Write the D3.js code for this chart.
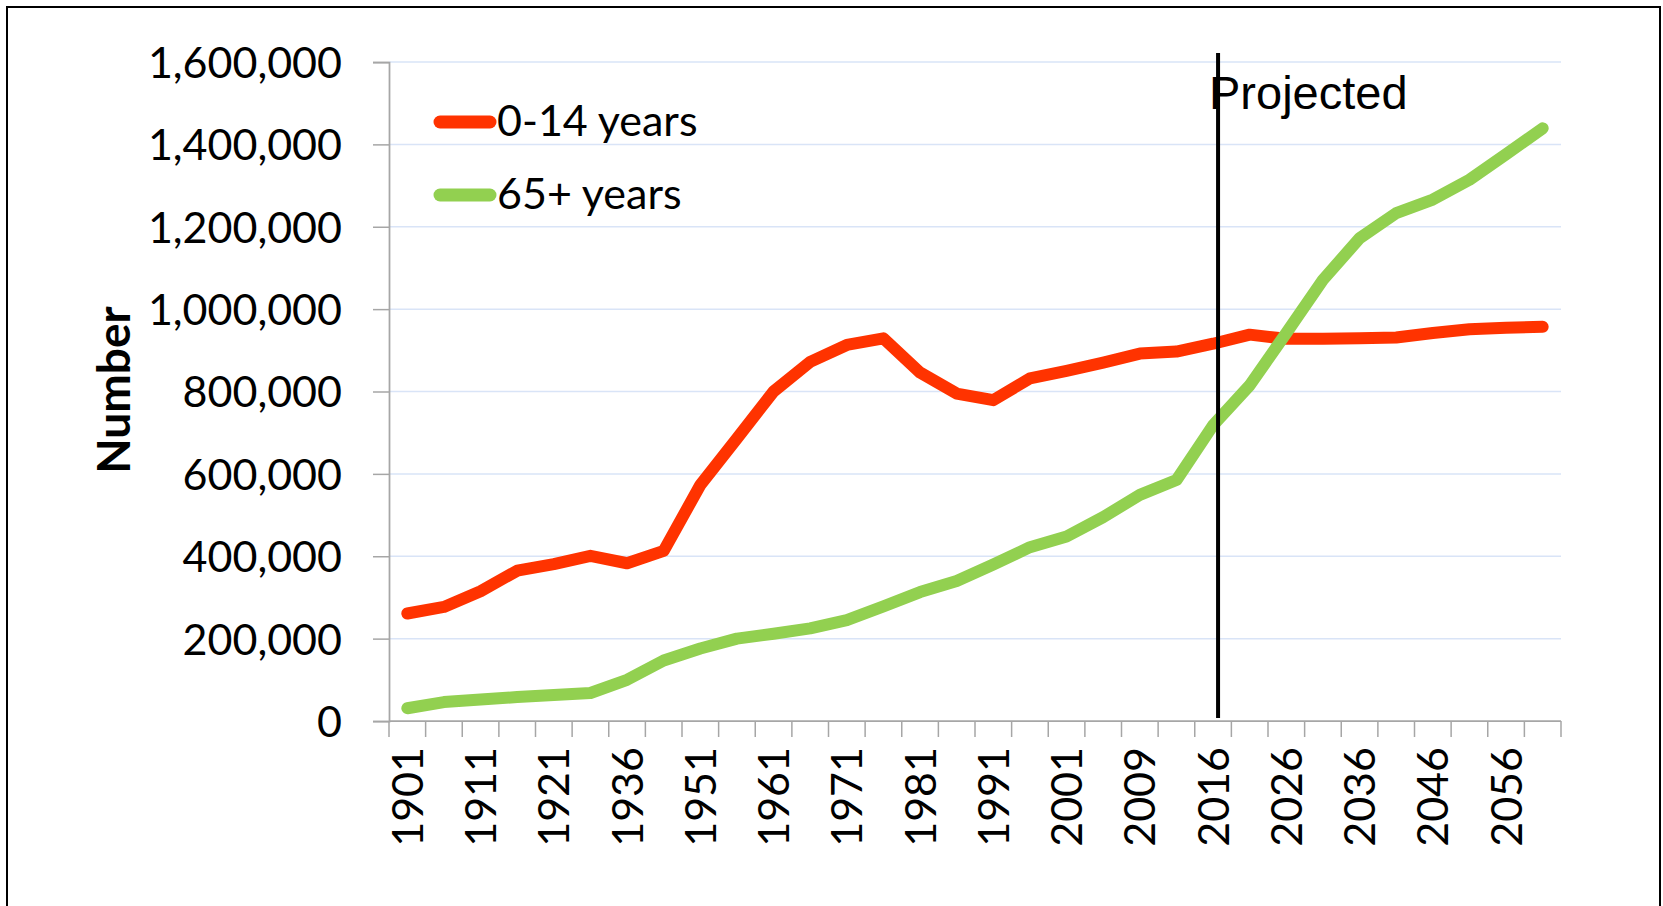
<!DOCTYPE html>
<html>
<head>
<meta charset="utf-8">
<script src="https://cdn.jsdelivr.net/npm/d3@7"></script>
<style>
  body { margin: 0; background: #fff; }
  svg { display: block; }
  .lbl { font-family: Lato, "Open Sans", sans-serif; fill: #000; }
</style>
</head>
<body>
<div class="chart"></div>
<script>
var width = 1663,
    height = 906;

// census / projection years (every other one is labelled)
var years = ["1901","1906","1911","1916","1921","1926","1936","1945","1951","1956",
             "1961","1966","1971","1976","1981","1986","1991","1996","2001","2006",
             "2009","2013","2016","2021","2026","2031","2036","2041","2046","2051",
             "2056","2061"];

// 0-14 years
var children = [261000,277000,315000,365000,381000,401000,383000,413000,573000,686000,
                800000,872000,913000,929000,846000,795000,779000,832000,850000,870000,
                892000,897000,916000,938000,928000,928000,929000,931000,942000,951000,
                955000,957000];

// 65+ years
var older = [31000,46000,52000,58000,63000,68000,100000,147000,176000,200000,
             212000,225000,245000,278000,313000,340000,380000,422000,448000,495000,
             549000,585000,718000,815000,942000,1071000,1172000,1233000,1266000,1314000,
             1376000,1439000];

var yTicks = [0,200000,400000,600000,800000,1000000,1200000,1400000,1600000];

var seriesNames = ["0-14 years", "65+ years"];
var seriesColors = ["#ff3300", "#92d050"];
var projectedFrom = "2016";

var plot = {left: 389, right: 1561, top: 62, bottom: 721};

var svg = d3.select(".chart").append("svg")
    .attr("width", width)
    .attr("height", height);

svg.append("rect")
    .attr("width", width).attr("height", height)
    .attr("fill", "#fff");

// frame round the whole picture (bottom edge falls outside)
svg.append("rect")
    .attr("x", 7).attr("y", 7)
    .attr("width", 1653).attr("height", 920)
    .attr("fill", "none")
    .attr("stroke", "#000")
    .attr("stroke-width", 2);

var x = d3.scaleBand()
    .domain(years)
    .range([plot.left, plot.right])
    .padding(0);

var y = d3.scaleLinear()
    .domain([0, 1600000])
    .range([plot.bottom, plot.top]);

var cx = function(d) { return x(d) + x.bandwidth() / 2; };

//gridlines
svg.append("g")
  .selectAll("line")
  .data(yTicks.filter(function(d) { return d > 0; }))
  .enter().append("line")
    .attr("x1", plot.left).attr("x2", plot.right)
    .attr("y1", function(d) { return y(d); })
    .attr("y2", function(d) { return y(d); })
    .attr("stroke", "#d9e4f7")
    .attr("stroke-width", 1.5);

//y axis
var yAxis = svg.append("g")
    .attr("transform", "translate(" + plot.left + ",0)")
    .call(d3.axisLeft(y)
      .tickValues(yTicks)
      .tickSize(16)
      .tickPadding(31)
      .tickFormat(d3.format(",")));

yAxis.select(".domain").attr("stroke", "#a6a6a6").attr("stroke-width", 1.75);
yAxis.selectAll(".tick line").attr("stroke", "#a6a6a6").attr("stroke-width", 1.5);
yAxis.selectAll(".tick text")
    .attr("class", "lbl")
    .style("font-size", "43px")
    .attr("dy", "0.36em");

//x axis
svg.append("line")
    .attr("x1", plot.left).attr("x2", plot.right)
    .attr("y1", plot.bottom).attr("y2", plot.bottom)
    .attr("stroke", "#a6a6a6")
    .attr("stroke-width", 1.75);

// ticks sit between the categories
var bounds = years.map(function(d) { return x(d); }).concat([plot.right]);
svg.append("g")
  .selectAll("line")
  .data(bounds)
  .enter().append("line")
    .attr("x1", function(d) { return d; })
    .attr("x2", function(d) { return d; })
    .attr("y1", plot.bottom)
    .attr("y2", plot.bottom + 16)
    .attr("stroke", "#a6a6a6")
    .attr("stroke-width", 1.5);

svg.append("g")
  .selectAll("text")
  .data(years.filter(function(d, i) { return i % 2 === 0; }))
  .enter().append("text")
    .attr("class", "lbl")
    .attr("x", function(d) { return cx(d); })
    .attr("y", 747)
    .attr("dy", "0.36em")
    .attr("text-anchor", "end")
    .attr("transform", function(d) { return "rotate(-90," + cx(d) + ",747)"; })
    .style("font-size", "43px")
    .text(function(d) { return d; });

//axis title
svg.append("text")
    .attr("class", "lbl")
    .attr("x", 130).attr("y", 390)
    .attr("text-anchor", "middle")
    .attr("transform", "rotate(-90,130,390)")
    .style("font-size", "46px")
    .style("font-weight", "bold")
    .text("Number");

//series lines
var line = d3.line()
    .x(function(d, i) { return cx(years[i]); })
    .y(function(d) { return y(d); });

[children, older].forEach(function(vals, k) {
  svg.append("path")
    .attr("d", line(vals))
    .attr("fill", "none")
    .attr("stroke", seriesColors[k])
    .attr("stroke-width", 12)
    .attr("stroke-linejoin", "round")
    .attr("stroke-linecap", "round");
});

//legend
var legend = svg.append("g")
  .selectAll("g")
  .data(seriesNames)
  .enter().append("g")
    .attr("transform", function(d, i) { return "translate(0," + (122 + i * 73) + ")"; });

legend.append("line")
    .attr("x1", 440).attr("x2", 490)
    .attr("stroke", function(d, i) { return seriesColors[i]; })
    .attr("stroke-width", 13)
    .attr("stroke-linecap", "round");

legend.append("text")
    .attr("class", "lbl")
    .attr("x", 497)
    .attr("y", 14)
    .style("font-size", "43px")
    .text(function(d) { return d; });

//projection marker
var px = cx(projectedFrom) + 5;
svg.append("line")
    .attr("x1", px).attr("x2", px)
    .attr("y1", 53).attr("y2", 718)
    .attr("stroke", "#000")
    .attr("stroke-width", 4);

svg.append("text")
    .attr("x", 1209).attr("y", 109)
    .style("font-family", "'Liberation Sans', Arial, sans-serif")
    .style("font-size", "47px")
    .text("Projected");
</script>
</body>
</html>
